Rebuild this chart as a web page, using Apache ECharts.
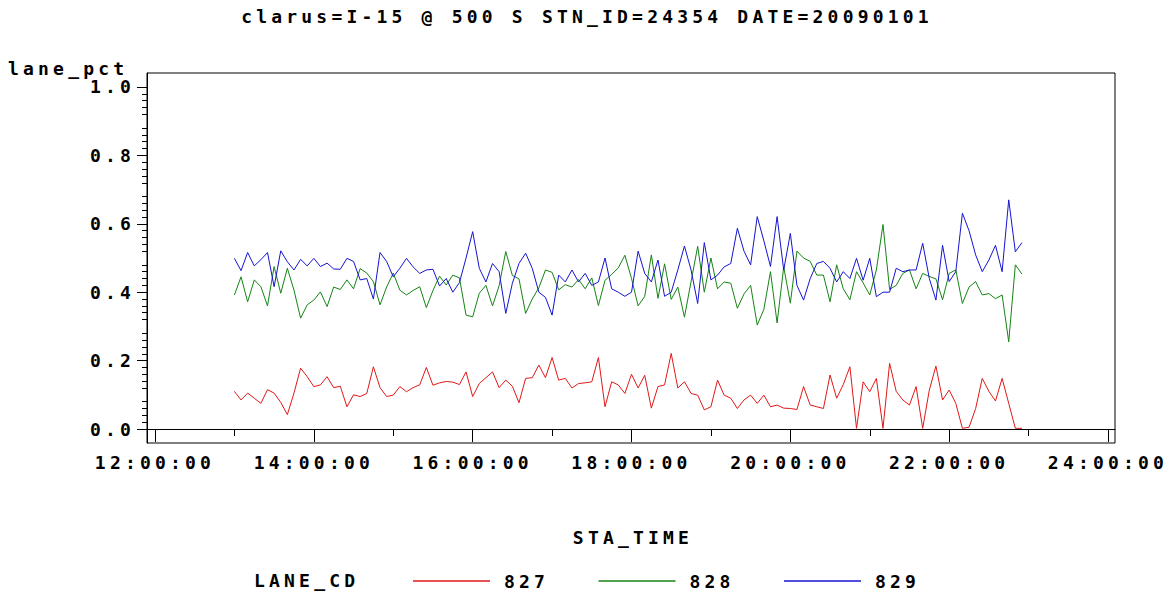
<!DOCTYPE html>
<html>
<head>
<meta charset="utf-8">
<script src="https://cdn.jsdelivr.net/npm/echarts@6/dist/echarts.min.js"></script>
<style>
  html, body { margin: 0; padding: 0; background: #fff; }
  #chart { width: 1174px; height: 596px; }
  /* SAS-style wide-set lettering */
  #chart text { letter-spacing: 4.2px; }
</style>
</head>
<body>
<div id="chart"></div>
<script>
// Station sampling clock: readings every 5 minutes starting 13:00
const START_HOUR = 13;
const STEP_MINUTES = 5;

// lane_pct for each lane code, one value per 5-minute interval
const lane827 = [
  0.110, 0.085, 0.105, 0.090, 0.075, 0.115, 0.105, 0.078, 0.042, 0.105,
  0.178, 0.153, 0.124, 0.129, 0.153, 0.121, 0.125, 0.065, 0.100, 0.095,
  0.104, 0.182, 0.121, 0.095, 0.099, 0.124, 0.109, 0.121, 0.129, 0.180,
  0.128, 0.135, 0.139, 0.137, 0.130, 0.167, 0.095, 0.133, 0.150, 0.167,
  0.121, 0.143, 0.125, 0.077, 0.148, 0.150, 0.187, 0.150, 0.209, 0.143,
  0.148, 0.120, 0.133, 0.135, 0.138, 0.209, 0.065, 0.138, 0.129, 0.104,
  0.160, 0.120, 0.157, 0.061, 0.124, 0.129, 0.221, 0.120, 0.138, 0.104,
  0.099, 0.056, 0.065, 0.143, 0.099, 0.090, 0.060, 0.085, 0.099, 0.075,
  0.099, 0.065, 0.070, 0.061, 0.060, 0.057, 0.124, 0.070, 0.065, 0.060,
  0.158, 0.090, 0.130, 0.182, 0.002, 0.138, 0.109, 0.148, 0.002, 0.192,
  0.110, 0.085, 0.070, 0.124, 0.002, 0.114, 0.184, 0.085, 0.114, 0.075,
  0.002, 0.005, 0.060, 0.148, 0.110, 0.082, 0.148, 0.075, 0.002, 0.002
];
const lane828 = [
  0.392, 0.445, 0.372, 0.436, 0.416, 0.360, 0.475, 0.397, 0.470, 0.406,
  0.324, 0.363, 0.377, 0.401, 0.358, 0.415, 0.408, 0.436, 0.410, 0.469,
  0.456, 0.431, 0.363, 0.415, 0.456, 0.406, 0.392, 0.405, 0.416, 0.355,
  0.405, 0.447, 0.421, 0.450, 0.442, 0.333, 0.328, 0.397, 0.420, 0.360,
  0.419, 0.519, 0.449, 0.439, 0.338, 0.380, 0.413, 0.465, 0.458, 0.407,
  0.422, 0.415, 0.437, 0.410, 0.442, 0.361, 0.435, 0.452, 0.471, 0.508,
  0.440, 0.360, 0.388, 0.509, 0.382, 0.483, 0.379, 0.415, 0.327, 0.431,
  0.534, 0.400, 0.500, 0.410, 0.430, 0.426, 0.353, 0.395, 0.420, 0.304,
  0.350, 0.460, 0.310, 0.474, 0.368, 0.520, 0.500, 0.490, 0.450, 0.450,
  0.372, 0.480, 0.410, 0.378, 0.460, 0.427, 0.392, 0.465, 0.598, 0.408,
  0.420, 0.455, 0.465, 0.410, 0.455, 0.446, 0.439, 0.378, 0.455, 0.465,
  0.367, 0.415, 0.431, 0.392, 0.396, 0.381, 0.392, 0.255, 0.480, 0.453
];
const lane829 = [
  0.499, 0.463, 0.516, 0.477, 0.495, 0.516, 0.416, 0.521, 0.489, 0.465,
  0.496, 0.477, 0.499, 0.475, 0.485, 0.468, 0.467, 0.499, 0.490, 0.436,
  0.440, 0.380, 0.516, 0.490, 0.445, 0.470, 0.499, 0.474, 0.455, 0.465,
  0.467, 0.418, 0.440, 0.400, 0.428, 0.500, 0.577, 0.470, 0.430, 0.484,
  0.460, 0.338, 0.426, 0.484, 0.514, 0.470, 0.400, 0.385, 0.333, 0.450,
  0.430, 0.465, 0.430, 0.455, 0.420, 0.430, 0.500, 0.410, 0.400, 0.388,
  0.400, 0.520, 0.455, 0.430, 0.494, 0.388, 0.400, 0.465, 0.535, 0.465,
  0.367, 0.545, 0.436, 0.450, 0.474, 0.484, 0.587, 0.520, 0.480, 0.621,
  0.550, 0.475, 0.621, 0.465, 0.572, 0.420, 0.377, 0.440, 0.484, 0.490,
  0.470, 0.430, 0.460, 0.440, 0.499, 0.435, 0.499, 0.387, 0.400, 0.400,
  0.470, 0.460, 0.465, 0.465, 0.543, 0.440, 0.377, 0.537, 0.431, 0.460,
  0.631, 0.580, 0.509, 0.460, 0.494, 0.537, 0.460, 0.670, 0.518, 0.545
];

const laneCodes = ['827', '828', '829'];
const laneColors = ['#e01818', '#148414', '#1414d0'];

// Axis ticks
const xMajorHours = [12, 14, 16, 18, 20, 22, 24];
const xMinorHours = [13, 15, 17, 19, 21, 23];
const xTickLabels = ['12:00:00', '14:00:00', '16:00:00', '18:00:00', '20:00:00', '22:00:00', '24:00:00'];
const yMajorValues = [0, 0.2, 0.4, 0.6, 0.8, 1.0];
const yMinorValues = [
  0.02, 0.04, 0.06, 0.08, 0.12, 0.14, 0.16, 0.18,
  0.22, 0.24, 0.26, 0.28, 0.32, 0.34, 0.36, 0.38,
  0.42, 0.44, 0.46, 0.48, 0.52, 0.54, 0.56, 0.58,
  0.62, 0.64, 0.66, 0.68, 0.72, 0.74, 0.76, 0.78,
  0.82, 0.84, 0.86, 0.88, 0.92, 0.94, 0.96, 0.98
];

// STA_TIME in decimal hours
const staTime = lane827.map((_, i) => START_HOUR + (i * STEP_MINUTES) / 60);

const FONT_FAMILY = '"DejaVu Sans Mono", monospace';
const FONT = 'bold 18px ' + FONT_FAMILY;
const textStyle = { fontFamily: FONT_FAMILY, fontWeight: 'bold', fontSize: 18, color: '#000' };

const chart = echarts.init(document.getElementById('chart'), null, { renderer: 'svg' });

const seriesData = [lane827, lane828, lane829];

const option = {
  animation: false,
  backgroundColor: '#fff',
  textStyle: textStyle,
  grid: {
    left: 147, right: 59, top: 73, bottom: 153,
    show: true, borderColor: '#000', borderWidth: 1, backgroundColor: 'transparent'
  },
  xAxis: [
    {
      type: 'value', position: 'bottom',
      min: 11.8993, max: 24.0881,
      axisLine: { show: true, lineStyle: { color: '#000', width: 1 } },
      axisTick: { show: true, customValues: xMajorHours, length: 13, lineStyle: { color: '#000' } },
      axisLabel: {
        show: true, customValues: xMajorHours, margin: 10,
        formatter: v => xTickLabels[xMajorHours.indexOf(Math.round(v))] || '',
        fontFamily: FONT_FAMILY, fontWeight: 'bold', fontSize: 18, color: '#000'
      },
      splitLine: { show: false }
    },
    {
      type: 'value', position: 'bottom',
      min: 11.8993, max: 24.0881,
      axisLine: { show: false },
      axisTick: { show: true, customValues: xMinorHours, length: 7, lineStyle: { color: '#000' } },
      axisLabel: { show: false },
      splitLine: { show: false }
    }
  ],
  yAxis: [
    {
      type: 'value', position: 'left',
      min: -0.0409, max: 1.0409,
      axisLine: { show: true, lineStyle: { color: '#000', width: 1 } },
      axisTick: { show: true, customValues: yMajorValues, length: 10, lineStyle: { color: '#000' } },
      axisLabel: {
        show: true, customValues: yMajorValues, margin: 12,
        formatter: v => v.toFixed(1),
        fontFamily: FONT_FAMILY, fontWeight: 'bold', fontSize: 18, color: '#000'
      },
      splitLine: { show: false }
    },
    {
      type: 'value', position: 'left',
      min: -0.0409, max: 1.0409,
      axisLine: { show: false },
      axisTick: { show: true, customValues: yMinorValues, length: 5, lineStyle: { color: '#000' } },
      axisLabel: { show: false },
      splitLine: { show: false }
    }
  ],
  legend: {
    left: 408, top: 567,
    icon: 'rect', itemWidth: 77, itemHeight: 1.5, itemGap: 62,
    data: laneCodes,
    textStyle: { fontFamily: FONT_FAMILY, fontWeight: 'bold', fontSize: 18, color: '#000', padding: [0, 0, 0, 9] }
  },
  graphic: [
    {
      type: 'text', x: 587, y: 16,
      style: { text: 'clarus=I-15 @ 500 S STN_ID=24354 DATE=20090101', font: FONT, fill: '#000',
               align: 'center', verticalAlign: 'middle', textAlign: 'center', textVerticalAlign: 'middle' }
    },
    {
      type: 'text', x: 8, y: 68,
      style: { text: 'lane_pct', font: FONT, fill: '#000',
               align: 'left', verticalAlign: 'middle', textAlign: 'left', textVerticalAlign: 'middle' }
    },
    {
      type: 'text', x: 633, y: 537,
      style: { text: 'STA_TIME', font: FONT, fill: '#000',
               align: 'center', verticalAlign: 'middle', textAlign: 'center', textVerticalAlign: 'middle' }
    },
    {
      type: 'text', x: 254, y: 580,
      style: { text: 'LANE_CD', font: FONT, fill: '#000',
               align: 'left', verticalAlign: 'middle', textAlign: 'left', textVerticalAlign: 'middle' }
    }
  ],
  series: laneCodes.map((code, k) => ({
    name: code,
    type: 'line',
    xAxisIndex: 0, yAxisIndex: 0,
    showSymbol: false,
    symbol: 'none',
    color: laneColors[k],
    lineStyle: { color: laneColors[k], width: 1 },
    data: staTime.map((t, i) => [t, seriesData[k][i]])
  }))
};

chart.setOption(option);
</script>
</body>
</html>
